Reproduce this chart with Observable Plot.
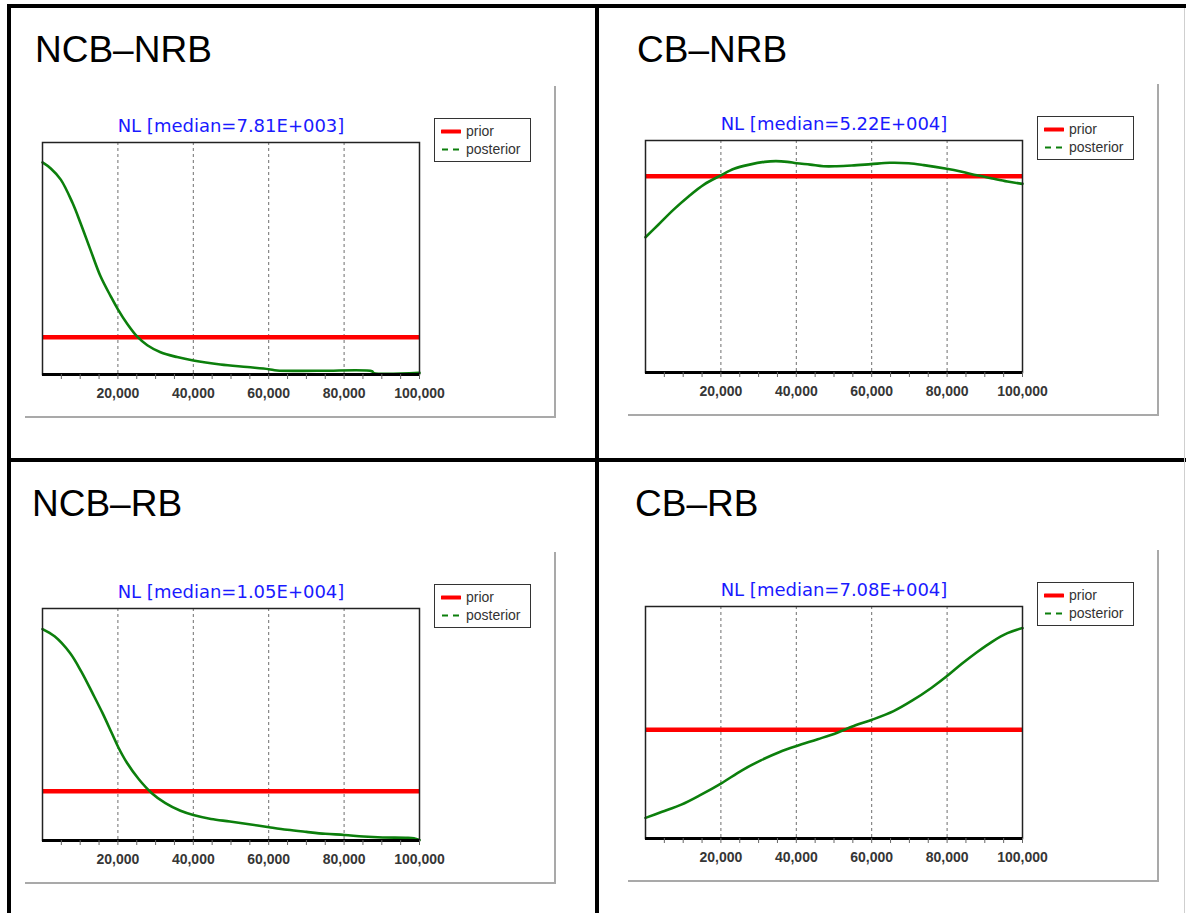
<!DOCTYPE html>
<html>
<head>
<meta charset="utf-8">
<script src="https://cdn.jsdelivr.net/npm/d3@7"></script>
<script src="https://cdn.jsdelivr.net/npm/@observablehq/plot@0.6"></script>
<style>
  html, body { margin: 0; padding: 0; background: #fff; }
  #page { position: relative; width: 1186px; height: 913px; overflow: hidden; background: #fff; font-family: "Liberation Sans", Arial, sans-serif; }
  .bar { position: absolute; background: #000; }
  .gray { position: absolute; background: #a9a9a9; }
  .plabel { position: absolute; font-size: 37px; line-height: 37px; color: #000; white-space: nowrap; font-family: "Liberation Sans", Arial, sans-serif; }
  .legend { position: absolute; width: 95px; height: 42px; border: 1.5px solid #333; background: #fff; font-family: "Liberation Sans", Arial, sans-serif; font-size: 14px; color: #333; }
  .legend .row { position: absolute; left: 0; height: 18px; line-height: 18px; }
  .legend svg { position: absolute; left: 6px; top: 0; }
  .legend span { position: absolute; left: 31px; top: 0; white-space: nowrap; }
  .chart { position: absolute; }
</style>
</head>
<body>
<div id="page"></div>
<script>
// ---------- data ----------
const panelLabels = ["NCB–NRB", "CB–NRB", "NCB–RB", "CB–RB"];
const medianTitles = ["NL [median=7.81E+003]", "NL [median=5.22E+004]", "NL [median=1.05E+004]", "NL [median=7.08E+004]"];
const legendLabels = ["prior", "posterior"];
// prior density level (share of plot height)
const priorLevels = [0.161, 0.846, 0.212, 0.469];

// posterior curves: x = NL, y = density (share of plot height)
const ncbNrbX = [0, 2200, 4850, 7950, 10150, 12800, 15450, 18100, 20000, 22500, 25150, 27800, 31300, 35700, 40000, 47200, 54300, 60000, 62200, 73700, 87400, 87800, 100000];
const ncbNrbY = [0.914, 0.888, 0.840, 0.740, 0.650, 0.534, 0.421, 0.337, 0.281, 0.218, 0.163, 0.126, 0.096, 0.075, 0.060, 0.043, 0.032, 0.023, 0.017, 0.016, 0.014, 0.007, 0.007];

const cbNrbX = [0, 3400, 7450, 11500, 15500, 20000, 23500, 27600, 31600, 34600, 37600, 40100, 43700, 47200, 50700, 54700, 59800, 64800, 69800, 73800, 79900, 83900, 87900, 92000, 96000, 100000];
const cbNrbY = [0.583, 0.637, 0.702, 0.760, 0.810, 0.850, 0.878, 0.896, 0.908, 0.911, 0.908, 0.902, 0.896, 0.889, 0.889, 0.892, 0.898, 0.904, 0.902, 0.894, 0.878, 0.865, 0.850, 0.836, 0.823, 0.813];

const ncbRbX = [0, 3200, 7300, 10300, 13300, 15900, 18400, 20100, 22400, 25500, 29000, 32600, 36600, 40000, 44700, 49700, 54800, 60100, 64900, 70000, 75000, 80100, 85100, 90200, 96300, 98500, 100000];
const ncbRbY = [0.911, 0.880, 0.808, 0.728, 0.634, 0.550, 0.462, 0.402, 0.335, 0.265, 0.204, 0.161, 0.128, 0.110, 0.093, 0.082, 0.070, 0.057, 0.046, 0.037, 0.029, 0.024, 0.017, 0.013, 0.012, 0.010, 0.002];

const cbRbX = [0, 4400, 9500, 14500, 20000, 25600, 30600, 35600, 40100, 45700, 50700, 55700, 60100, 65800, 70800, 75900, 79900, 83900, 87900, 92000, 96000, 100000];
const cbRbY = [0.089, 0.115, 0.146, 0.187, 0.237, 0.294, 0.337, 0.373, 0.399, 0.428, 0.455, 0.488, 0.512, 0.549, 0.595, 0.650, 0.699, 0.753, 0.803, 0.849, 0.885, 0.907];

const xDomain = [0, 100000];
const majorTicks = [20000, 40000, 60000, 80000, 100000];
const gridTicks = [20000, 40000, 60000, 80000];
const minorTicks = [5000, 10000, 15000, 20000, 25000, 30000, 35000, 40000, 45000, 50000, 55000, 60000, 65000, 70000, 75000, 80000, 85000, 90000, 95000, 100000];

const seriesX = [ncbNrbX, cbNrbX, ncbRbX, cbRbX];
const seriesY = [ncbNrbY, cbNrbY, ncbRbY, cbRbY];

// ---------- layout ----------
const page = document.getElementById("page");
function el(cls, css, html) {
  const d = document.createElement("div");
  d.className = cls;
  Object.assign(d.style, css);
  if (html != null) d.innerHTML = html;
  page.appendChild(d);
  return d;
}

const W = 530, H = 331;
const frames = [
  {left: 25, top: 86, labelLeft: 35, labelTop: 31},
  {left: 628, top: 84, labelLeft: 637, labelTop: 31},
  {left: 25, top: 552, labelLeft: 32, labelTop: 485},
  {left: 628, top: 550, labelLeft: 635, labelTop: 485}
];

const RED = "#ff0000";
const GREEN = "#0c7f0c";

frames.forEach((f, i) => {
  const data = seriesX[i].map((x, j) => ({x, y: seriesY[i][j]}));
  const chart = Plot.plot({
    width: W,
    height: H,
    marginLeft: 17,
    marginRight: 136,
    marginTop: 56,
    marginBottom: 43,
    style: {background: "transparent", overflow: "visible", color: "#333", fontSize: "14px"},
    x: {domain: xDomain, label: null, axis: null},
    y: {domain: [0, 1], label: null, axis: null},
    marks: [
      Plot.ruleX(gridTicks, {stroke: "#6e6e6e", strokeWidth: 1, strokeDasharray: "3,3"}),
      Plot.ruleY([priorLevels[i]], {stroke: RED, strokeWidth: 4.5}),
      Plot.line(data, {x: "x", y: "y", stroke: GREEN, strokeWidth: 2.6, curve: "catmull-rom"}),
      Plot.frame({stroke: "#222", strokeWidth: 1.5}),
      Plot.ruleY([0], {stroke: "#000", strokeWidth: 3}),
      Plot.axisX({ticks: minorTicks, tickSize: 5, tickFormat: () => "", stroke: "#666", label: null}),
      Plot.axisX({ticks: majorTicks, tickSize: 0, tickPadding: 14, tickFormat: d3.format(","), label: null,
        fontSize: 14, fontWeight: "bold", fill: "#363636", fontFamily: "'Liberation Sans', Arial, sans-serif"}),
      Plot.text([medianTitles[i]], {frameAnchor: "top", dy: -23, fontSize: 18, fill: "#1a1aff",
        fontFamily: "'Comic Sans MS', 'DejaVu Sans', sans-serif"})
    ]
  });
  const wrap = el("chart", {left: f.left + "px", top: f.top + "px", width: W + "px", height: H + "px"});
  wrap.appendChild(chart);

  // gray frame (right and bottom)
  el("gray", {left: (f.left + 529) + "px", top: f.top + "px", width: "2px", height: (H + 1) + "px"});
  el("gray", {left: f.left + "px", top: (f.top + 330) + "px", width: "531px", height: "2px"});

  // panel label
  el("plabel", {left: f.labelLeft + "px", top: f.labelTop + "px"}, panelLabels[i]);

  // legend
  const lg = el("legend", {left: (f.left + 409) + "px", top: (f.top + 32) + "px"});
  lg.innerHTML =
    `<div class="row" style="top:3px;width:95px">
       <svg width="20" height="18"><line x1="1" x2="19" y1="9.5" y2="9.5" stroke="${RED}" stroke-width="4" stroke-linecap="round"/></svg>
       <span>${legendLabels[0]}</span></div>
     <div class="row" style="top:21px;width:95px">
       <svg width="20" height="18"><line x1="1" x2="19" y1="9.5" y2="9.5" stroke="${GREEN}" stroke-width="2.2" stroke-dasharray="6,5"/></svg>
       <span>${legendLabels[1]}</span></div>`;
});

// black panel borders
el("bar", {left: "7px", top: "4px", width: "1179px", height: "4px"});
el("bar", {left: "7px", top: "4px", width: "4px", height: "909px"});
el("bar", {left: "595px", top: "4px", width: "4px", height: "909px"});
el("bar", {left: "7px", top: "458px", width: "1179px", height: "4px"});
el("gray", {left: "1184px", top: "8px", width: "1px", height: "905px", background: "#cfcfcf"});
</script>
</body>
</html>
